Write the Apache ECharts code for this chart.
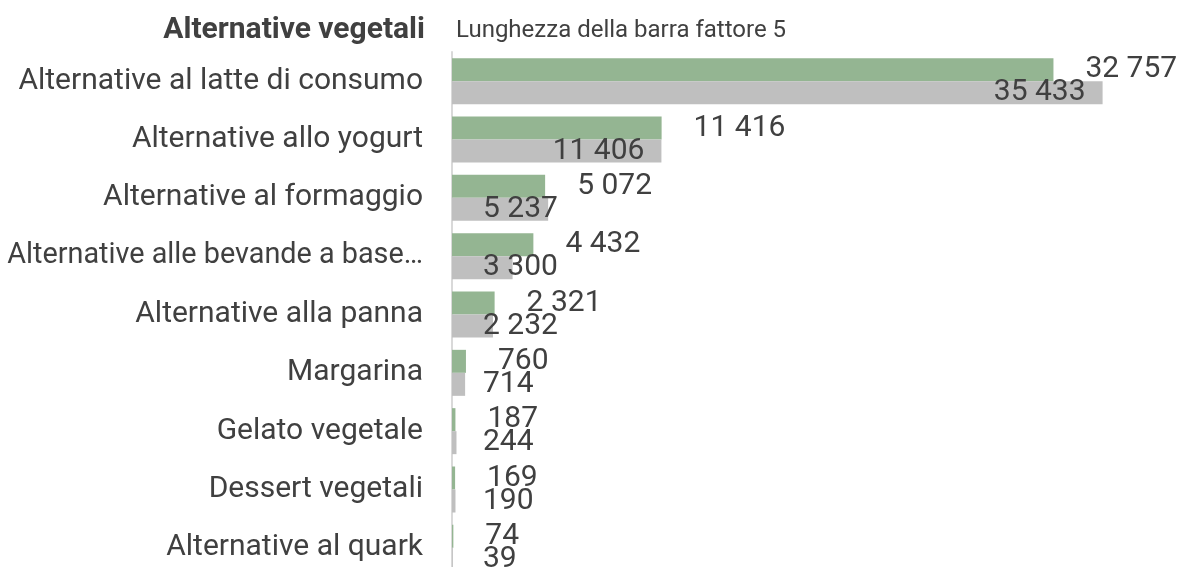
<!DOCTYPE html>
<html>
<head>
<meta charset="utf-8">
<script src="https://cdn.jsdelivr.net/npm/echarts@6/dist/echarts.min.js"></script>
<style>
html,body{margin:0;padding:0;background:#fff;}
#chart{width:1178px;height:567px;}
</style>
</head>
<body>
<div id="chart"></div>
<script>
const categories = [
  "Alternative al latte di consumo",
  "Alternative allo yogurt",
  "Alternative al formaggio",
  "Alternative alle bevande a base…",
  "Alternative alla panna",
  "Margarina",
  "Gelato vegetale",
  "Dessert vegetali",
  "Alternative al quark"
];
const seriesGreen = [32757, 11416, 5072, 4432, 2321, 760, 187, 169, 74];
const seriesGray = [35433, 11406, 5237, 3300, 2232, 714, 244, 190, 39];
const titleText = "Alternative vegetali";
const subtitleText = "Lunghezza della barra fattore 5";

const fmt = v => String(v).replace(/\B(?=(\d{3})+(?!\d))/g, " ");
const FONT = "Roboto";
const TXT = "#404040";

const chart = echarts.init(document.getElementById('chart'), null, {renderer: 'canvas'});

const catData = categories.map(c => c.length > 31 ? {value: c, textStyle: {fontSize: 28.8}} : c);
const greenData = seriesGreen.map(v => ({value: v}));
const grayData = seriesGray.map(v => v >= 10000
  ? {value: v, label: {position: 'insideRight', distance: 17}}
  : {value: v, label: {position: [31, '50%'], align: 'left', verticalAlign: 'middle'}});

chart.setOption({
  animation: false,
  backgroundColor: '#ffffff',
  grid: {left: 452, right: 65, top: 52, height: 525, containLabel: false, outerBoundsMode: 'none'},
  xAxis: {
    type: 'value', min: 0, max: 36000,
    show: false
  },
  yAxis: {
    type: 'category', data: catData, inverse: true,
    axisLine: {show: true, lineStyle: {color: '#d9d9d9', width: 2}},
    axisTick: {show: false},
    axisLabel: {fontFamily: FONT, fontSize: 30, color: TXT, margin: 29}
  },
  graphic: [
    {type: 'text', x: 425, y: 30, style: {text: titleText, font: 'bold 30px Roboto', fill: TXT, align: 'right', verticalAlign: 'middle'}},
    {type: 'text', x: 456, y: 31, style: {text: subtitleText, font: '24px Roboto', fill: TXT, align: 'left', verticalAlign: 'middle'}}
  ],
  series: [
    {
      name: 'Verde', type: 'bar', data: greenData, barWidth: 23, barGap: '0%',
      itemStyle: {color: '#94b592'},
      label: {show: true, position: 'right', distance: 32, formatter: p => fmt(p.value),
        fontFamily: FONT, fontSize: 30, color: TXT}
    },
    {
      name: 'Grigio', type: 'bar', data: grayData, barWidth: 23, barGap: '0%',
      itemStyle: {color: '#bfbfbf'},
      label: {show: true, formatter: p => fmt(p.value),
        fontFamily: FONT, fontSize: 30, color: TXT}
    }
  ]
});
</script>
</body>
</html>
